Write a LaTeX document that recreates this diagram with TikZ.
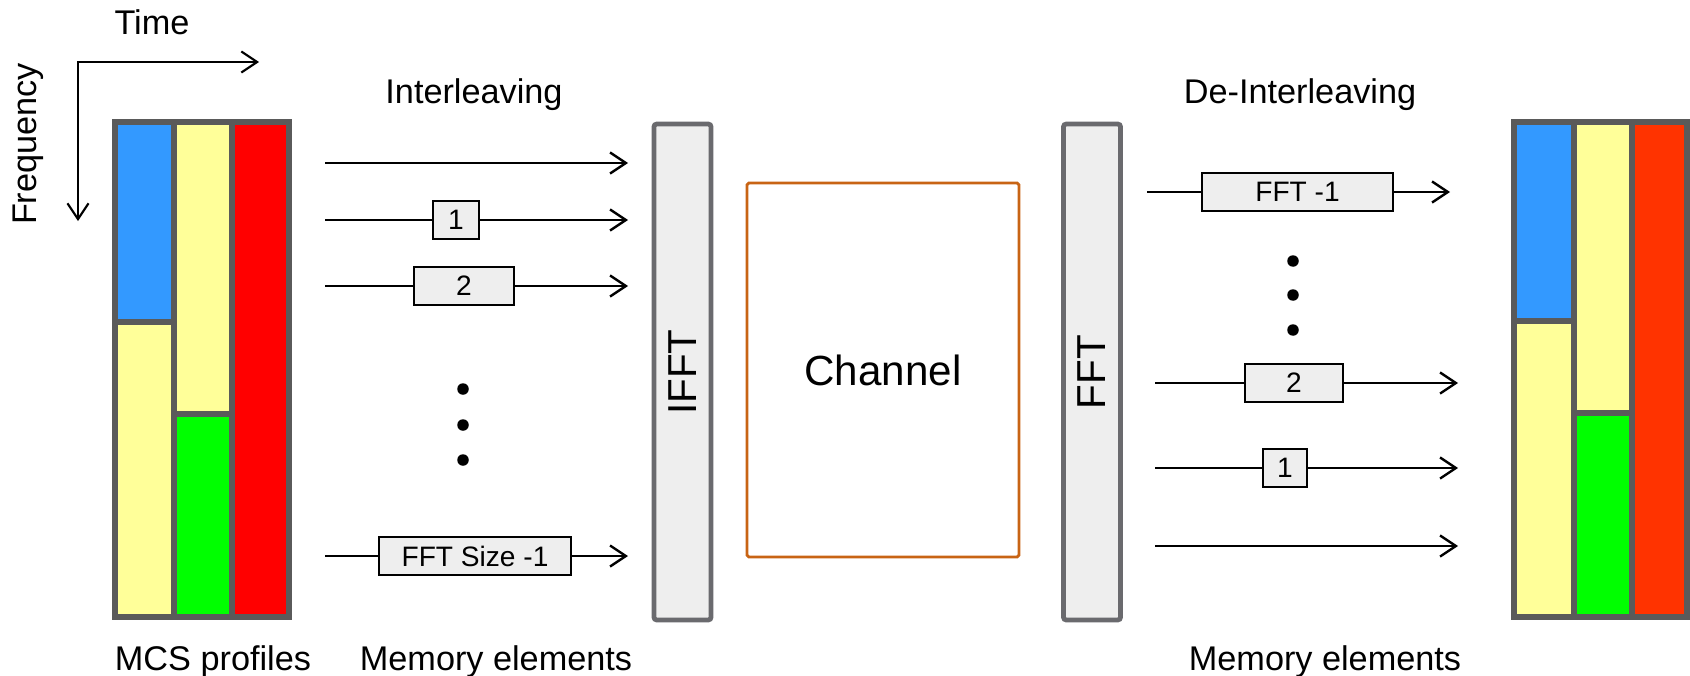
\documentclass[tikz,border=0pt]{standalone}
\usepackage{fontspec}
\setmainfont{Liberation Sans}
\usetikzlibrary{arrows.meta}

\definecolor{mcsgrey}{RGB}{90,90,90}
\definecolor{bargrey}{RGB}{106,106,110}
\definecolor{boxfill}{RGB}{238,238,238}
\definecolor{mcsblue}{RGB}{51,153,255}
\definecolor{mcsyellow}{RGB}{255,255,153}
\definecolor{mcsgreen}{RGB}{0,255,0}
\definecolor{mcsred}{RGB}{255,0,0}
\definecolor{mcsorange}{RGB}{255,51,0}
\definecolor{chanorange}{RGB}{200,100,20}

\begin{document}
\begin{tikzpicture}[x=0.02cm, y=-0.02cm,
    lbl/.style={font=\fontsize{19.5}{23}\selectfont},
    membox/.style={rectangle, draw, fill=boxfill, line width=1pt, minimum height=0.76cm, inner sep=0pt, font=\fontsize{16}{19}\selectfont},
    bar/.style={rectangle, draw=bargrey, fill=boxfill, line width=2.7pt, rounded corners=1.5pt, rotate=90, minimum width=9.92cm, minimum height=1.14cm, font=\fontsize{23}{27}\selectfont},
    cell/.style={draw=mcsgrey, line width=3.1pt},
    feed/.style={line width=0.85pt},
    flow/.style={line width=1.35pt, -{Straight Barb[length=9pt, width=12pt]}},
    dot/.style={circle, fill, inner sep=0pt, minimum size=0.23cm}
  ]
    \useasboundingbox (0,0) rectangle (1690,676);

    % 時間・周波数の軸
    \coordinate (T) at (259,62);
    \coordinate (O) at (78,62);
    \coordinate (F) at (78,221);
    \draw[line width=1.2pt, {Straight Barb[length=9pt, width=12pt]}-{Straight Barb[length=9pt, width=12pt]}] (T) -- (O) -- (F);
    \node[lbl] (time) at (152,22) {Time};
    \node[lbl, rotate=90] (freq) at (28,144) {Frequency};

    % 送信側の MCS プロファイル
    \draw[cell, fill=mcsblue] (115,122) rectangle (174,322);
    \draw[cell, fill=mcsyellow] (115,322) rectangle (174,617);
    \draw[cell, fill=mcsyellow] (174,122) rectangle (232,414);
    \draw[cell, fill=mcsgreen] (174,414) rectangle (232,617);
    \draw[cell, fill=mcsred] (232,122) rectangle (289,617);
    \draw[cell, rounded corners=1.5pt] (115,122) rectangle (289,617);

    % 受信側の MCS プロファイル
    \draw[cell, fill=mcsblue] (1514,122) rectangle (1574,321);
    \draw[cell, fill=mcsyellow] (1514,321) rectangle (1574,617);
    \draw[cell, fill=mcsyellow] (1574,122) rectangle (1632,413);
    \draw[cell, fill=mcsgreen] (1574,413) rectangle (1632,617);
    \draw[cell, fill=mcsorange] (1632,122) rectangle (1687,617);
    \draw[cell, rounded corners=1.5pt] (1514,122) rectangle (1687,617);

    \node[bar] (ifft) at (682.5,372) {IFFT};
    \node[bar] (fft) at (1092,372) {FFT};
    \node[rectangle, draw=chanorange, line width=1.6pt, rounded corners=1pt, minimum width=5.44cm, minimum height=7.48cm, font=\fontsize{24}{28}\selectfont] (chan) at (883,370) {Channel};

    % インターリーブ
    \node[lbl] (il) at (474,95) {Interleaving};
    \coordinate (a0) at (325,163);
    \coordinate (b0) at (628,163);
    \coordinate (a1) at (325,220);
    \coordinate (b1) at (628,220);
    \coordinate (a2) at (325,286);
    \coordinate (b2) at (628,286);
    \coordinate (aN) at (325,556);
    \coordinate (bN) at (628,556);
    \node[membox, minimum width=0.92cm] (m1) at (456,220) {1};
    \node[membox, minimum width=2cm] (m2) at (464,286) {2};
    \node[membox, minimum width=3.84cm] (mN) at (475,556) {FFT Size -1};
    \draw[flow] (a0) -- (b0);
    \draw[feed] (a1) -- (m1);
    \draw[flow] (m1) -- (b1);
    \draw[feed] (a2) -- (m2);
    \draw[flow] (m2) -- (b2);
    \draw[feed] (aN) -- (mN);
    \draw[flow] (mN) -- (bN);
    \node[dot] (d1) at (463,389) {};
    \node[dot] (d2) at (463,425) {};
    \node[dot] (d3) at (463,460) {};
    \node[lbl] (mcs) at (213,662) {MCS profiles};
    \node[lbl] (mem) at (496,662) {Memory elements};

    % デインターリーブ
    \node[lbl] (dil) at (1300,95) {De-Interleaving};
    \coordinate (c1) at (1147,192);
    \coordinate (e1) at (1450,192);
    \coordinate (c2) at (1155,383);
    \coordinate (e2) at (1458,383);
    \coordinate (c3) at (1155,468);
    \coordinate (e3) at (1458,468);
    \coordinate (c4) at (1155,546);
    \coordinate (e4) at (1458,546);
    \node[membox, minimum width=3.82cm] (r1) at (1297.5,192) {FFT -1};
    \node[membox, minimum width=1.96cm] (r2) at (1294,383) {2};
    \node[membox, minimum width=0.88cm] (r3) at (1285,468) {1};
    \draw[feed] (c1) -- (r1);
    \draw[flow] (r1) -- (e1);
    \draw[feed] (c2) -- (r2);
    \draw[flow] (r2) -- (e2);
    \draw[feed] (c3) -- (r3);
    \draw[flow] (r3) -- (e3);
    \draw[flow] (c4) -- (e4);
    \node[dot] (d4) at (1293,261) {};
    \node[dot] (d5) at (1293,295) {};
    \node[dot] (d6) at (1293,330) {};
    \node[lbl] (memr) at (1325,662) {Memory elements};

  \end{tikzpicture}
\end{document}
